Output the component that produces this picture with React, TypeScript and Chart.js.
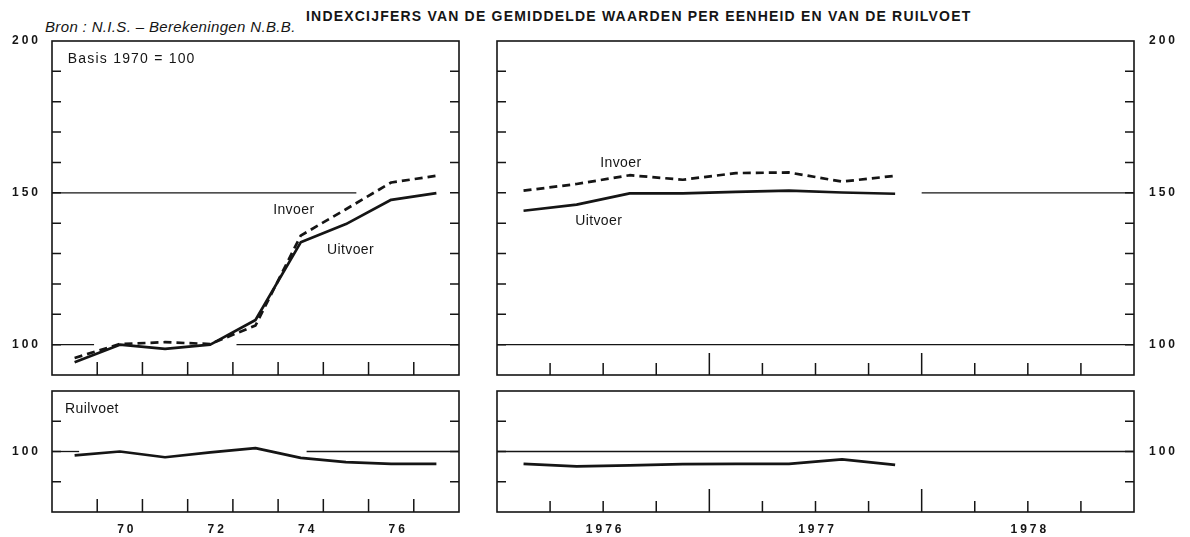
import React, { useEffect, useRef } from 'react';
import { Chart, registerables } from 'chart.js';

Chart.register(...registerables);

// ---------------- data ----------------
const years = [1969, 1970, 1971, 1972, 1973, 1974, 1975, 1976, 1977];
const uitvoerJaar = [94.2, 100.0, 98.6, 100.0, 108.1, 133.7, 139.7, 147.7, 149.9];
const invoerJaar = [95.6, 100.2, 100.8, 100.2, 106.3, 135.9, 144.6, 153.4, 155.6];
const ruilvoetJaar = [98.7, 100.0, 98.1, 99.7, 101.1, 97.9, 96.5, 95.9, 95.9];

const kwartalen = ['1976 I', '1976 II', '1976 III', '1976 IV', '1977 I', '1977 II', '1977 III', '1977 IV'];
const uitvoerKwartaal = [144.1, 146.1, 149.8, 149.8, 150.3, 150.7, 150.1, 149.7];
const invoerKwartaal = [150.7, 152.9, 155.8, 154.3, 156.5, 156.7, 153.7, 155.6];
const ruilvoetKwartaal = [95.9, 95.1, 95.4, 95.8, 95.9, 95.9, 97.4, 95.6];

const jaarTickLabels = ['70', '72', '74', '76'];
const kwartaalTickLabels = ['1976', '1977', '1978'];
const indexTickLabels = [100, 150, 200];
const ruilvoetTickLabels = [100];

// ---------------- helpers ----------------
const INK = '#151515';
const FONT = "'Liberation Sans', Arial, Helvetica, sans-serif";
const QI: Record<string, number> = { I: 0, II: 1, III: 2, IV: 3 };
const quarterToX = (s: string) => {
  const [y, q] = s.split(' ');
  return Number(y) + (QI[q] + 0.5) / 4;
};
const pts = (xs: number[], ys: number[]) => xs.map((x, i) => ({ x, y: ys[i] }));
const kwartaalX = kwartalen.map(quarterToX);

const annualMarks = (len: number) => {
  const out: { v: number; len: number }[] = [];
  for (let y = 1969; y <= 1976; y++) out.push({ v: y + 0.5, len });
  return out;
};
const quarterMarks = (short: number, tall: number) => {
  const out: { v: number; len: number }[] = [];
  for (let y = 1976; y <= 1978; y++) {
    if (y > 1976) out.push({ v: y, len: tall });
    for (let q = 1; q <= 3; q++) out.push({ v: y + q / 4, len: short });
  }
  return out;
};

type Series = { data: { x: number; y: number }[]; dash?: number[] };
type Note = { t: string; x: number; y: number; ls?: number };
type PanelCfg = {
  box: { left: number; top: number; width: number; height: number };
  padding: { left: number; top: number; right: number; bottom: number };
  x: {
    min: number;
    max: number;
    labels: { v: number; t: string }[] | null;
    labelOffset?: number;
    marks: { v: number; len: number }[];
  };
  y: { min: number; max: number; pos: 'left' | 'right'; labeled: number[]; width: number; pad: number };
  series: Series[];
  refs: [number, number, number][];
  notes: Note[];
};

const decorPlugin = {
  id: 'decor',
  beforeDraw(chart: any) {
    chart.ctx.letterSpacing = '3px';
  },
  afterDraw(chart: any) {
    const cfg: PanelCfg = chart.options.plugins.decor.cfg;
    const { ctx, chartArea: a } = chart;
    const xs = chart.scales.x;
    const ys = chart.scales.y;
    ctx.save();
    ctx.letterSpacing = '0px';
    ctx.strokeStyle = INK;
    ctx.lineWidth = 1.6;
    ctx.strokeRect(a.left, a.top, a.right - a.left, a.bottom - a.top);
    ctx.lineWidth = 1.5;
    ctx.beginPath();
    for (let v = cfg.y.min + 10; v < cfg.y.max; v += 10) {
      const py = ys.getPixelForValue(v);
      ctx.moveTo(a.left, py);
      ctx.lineTo(a.left + 9, py);
      ctx.moveTo(a.right, py);
      ctx.lineTo(a.right - 9, py);
    }
    for (const m of cfg.x.marks) {
      const px = xs.getPixelForValue(m.v);
      ctx.moveTo(px, a.bottom);
      ctx.lineTo(px, a.bottom - m.len);
    }
    ctx.stroke();
    ctx.fillStyle = INK;
    ctx.font = `14px ${FONT}`;
    ctx.textAlign = 'left';
    ctx.textBaseline = 'alphabetic';
    for (const n of cfg.notes) {
      ctx.letterSpacing = `${n.ls ?? 0.4}px`;
      ctx.fillText(n.t, xs.getPixelForValue(n.x), ys.getPixelForValue(n.y));
    }
    ctx.restore();
    ctx.letterSpacing = '0px';
  },
};

function Panel({ cfg }: { cfg: PanelCfg }) {
  const ref = useRef<HTMLCanvasElement | null>(null);
  useEffect(() => {
    if (!ref.current) return;
    const datasets: any[] = [];
    cfg.series.forEach((s) =>
      datasets.push({
        data: s.data,
        borderColor: INK,
        borderWidth: 2.7,
        borderDash: s.dash || [],
        pointRadius: 0,
        tension: 0,
        fill: false,
        borderJoinStyle: 'round',
      })
    );
    cfg.refs.forEach(([y, x0, x1]) =>
      datasets.push({
        data: [
          { x: x0, y },
          { x: x1, y },
        ],
        borderColor: INK,
        borderWidth: 1.3,
        pointRadius: 0,
        fill: false,
      })
    );
    const tickFont = { family: FONT, size: 12, weight: 'bold' as const };
    const labels = cfg.x.labels;
    const chart = new Chart(ref.current, {
      type: 'line',
      data: { datasets },
      plugins: [decorPlugin as any],
      options: {
        responsive: false,
        animation: false,
        devicePixelRatio: 1,
        events: [],
        layout: { padding: cfg.padding, autoPadding: false },
        plugins: {
          legend: { display: false },
          tooltip: { enabled: false },
          decor: { cfg },
        } as any,
        scales: {
          x: {
            type: 'linear',
            min: cfg.x.min,
            max: cfg.x.max,
            display: !!labels,
            grid: { display: false, drawTicks: false },
            border: { display: false },
            afterBuildTicks: (s: any) => {
              if (labels) s.ticks = labels.map((l) => ({ value: l.v }));
            },
            afterFit: (s: any) => {
              s.height = labels ? 25 : 0;
              s.paddingLeft = 0;
              s.paddingRight = 0;
              s.paddingTop = 0;
              s.paddingBottom = 0;
            },
            ticks: {
              autoSkip: false,
              maxRotation: 0,
              padding: 10,
              labelOffset: cfg.x.labelOffset || 0,
              color: INK,
              font: tickFont,
              callback: (v: any) => {
                const l = labels ? labels.find((k) => Math.abs(k.v - Number(v)) < 1e-6) : null;
                return l ? l.t : '';
              },
            },
          },
          y: {
            type: 'linear',
            position: cfg.y.pos,
            min: cfg.y.min,
            max: cfg.y.max,
            grid: { display: false, drawTicks: false },
            border: { display: false },
            afterBuildTicks: (s: any) => {
              s.ticks = cfg.y.labeled.map((v) => ({ value: v }));
            },
            afterFit: (s: any) => {
              s.width = cfg.y.width;
              s.paddingLeft = 0;
              s.paddingRight = 0;
              s.paddingTop = 0;
              s.paddingBottom = 0;
            },
            ticks: {
              autoSkip: false,
              padding: cfg.y.pad,
              color: INK,
              font: tickFont,
              callback: (v: any) => String(v),
            },
          },
        },
      } as any,
    });
    return () => chart.destroy();
  }, [cfg]);
  const b = cfg.box;
  return (
    <canvas
      ref={ref}
      width={b.width}
      height={b.height}
      style={{ position: 'absolute', left: b.left, top: b.top, width: b.width, height: b.height }}
    />
  );
}

const jaarLabelDefs = jaarTickLabels.map((t) => ({ v: 1900 + Number(t), t }));
const kwartaalLabelDefs = kwartaalTickLabels.map((t) => ({ v: Number(t) + 0.5, t }));

const panels: PanelCfg[] = [
  {
    box: { left: 0, top: 30, width: 480, height: 355 },
    padding: { left: 0, top: 11, right: 21, bottom: 10 },
    x: { min: 1968.5, max: 1977.5, labels: null, marks: annualMarks(13) },
    y: { min: 90, max: 200, pos: 'left', labeled: indexTickLabels, width: 52, pad: 11 },
    series: [{ data: pts(years, uitvoerJaar) }, { data: pts(years, invoerJaar), dash: [8, 5] }],
    refs: [
      [150, 1968.5, 1975.23],
      [100, 1968.5, 1969.43],
      [100, 1972.58, 1977.5],
    ],
    notes: [
      { t: 'Basis 1970 = 100', x: 1968.85, y: 192.7, ls: 1.2 },
      { t: 'Invoer', x: 1973.39, y: 143.0 },
      { t: 'Uitvoer', x: 1974.58, y: 129.9 },
    ],
  },
  {
    box: { left: 480, top: 30, width: 710, height: 355 },
    padding: { left: 17, top: 11, right: 0, bottom: 10 },
    x: { min: 1976, max: 1979, labels: null, marks: quarterMarks(12, 22) },
    y: { min: 90, max: 200, pos: 'right', labeled: indexTickLabels, width: 56, pad: 15 },
    series: [{ data: pts(kwartaalX, uitvoerKwartaal) }, { data: pts(kwartaalX, invoerKwartaal), dash: [8, 5] }],
    refs: [
      [150, 1978.0, 1979],
      [100, 1976, 1979],
    ],
    notes: [
      { t: 'Invoer', x: 1976.486, y: 158.6 },
      { t: 'Uitvoer', x: 1976.368, y: 139.4 },
    ],
  },
  {
    box: { left: 0, top: 380, width: 480, height: 157 },
    padding: { left: 0, top: 11, right: 21, bottom: 0 },
    x: { min: 1968.5, max: 1977.5, labels: jaarLabelDefs, labelOffset: 7, marks: annualMarks(13) },
    y: { min: 80, max: 120, pos: 'left', labeled: ruilvoetTickLabels, width: 52, pad: 11 },
    series: [{ data: pts(years, ruilvoetJaar) }],
    refs: [
      [100, 1968.5, 1969.1],
      [100, 1974.13, 1977.5],
    ],
    notes: [{ t: 'Ruilvoet', x: 1968.79, y: 112.6 }],
  },
  {
    box: { left: 480, top: 380, width: 710, height: 157 },
    padding: { left: 17, top: 11, right: 0, bottom: 0 },
    x: { min: 1976, max: 1979, labels: kwartaalLabelDefs, labelOffset: 2, marks: quarterMarks(11, 23) },
    y: { min: 80, max: 120, pos: 'right', labeled: ruilvoetTickLabels, width: 56, pad: 15 },
    series: [{ data: pts(kwartaalX, ruilvoetKwartaal) }],
    refs: [[100, 1976, 1979]],
    notes: [],
  },
];

export default function App() {
  return (
    <div
      style={{
        position: 'absolute',
        left: 0,
        top: 0,
        width: 1190,
        height: 537,
        background: '#ffffff',
        overflow: 'hidden',
        color: INK,
      }}
    >
      <div
        style={{
          position: 'absolute',
          left: 45,
          top: 19,
          font: `italic 15px ${FONT}`,
          lineHeight: '15px',
          letterSpacing: '0.35px',
          whiteSpace: 'nowrap',
        }}
      >
        Bron : N.I.S. – Berekeningen N.B.B.
      </div>
      <div
        style={{
          position: 'absolute',
          left: 306,
          top: 9,
          font: `bold 14px ${FONT}`,
          lineHeight: '14px',
          letterSpacing: '1.2px',
          whiteSpace: 'nowrap',
        }}
      >
        INDEXCIJFERS VAN DE GEMIDDELDE WAARDEN PER EENHEID EN VAN DE RUILVOET
      </div>
      {panels.map((p, i) => (
        <Panel key={i} cfg={p} />
      ))}
    </div>
  );
}
